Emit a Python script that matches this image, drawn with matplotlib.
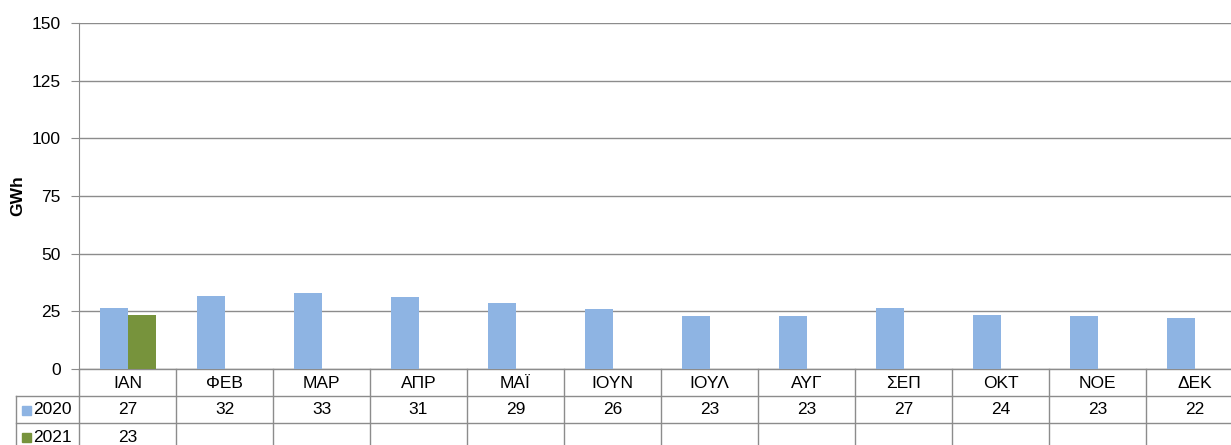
import matplotlib
matplotlib.use("Agg")
import matplotlib.pyplot as plt
import matplotlib.transforms as mtransforms
from matplotlib.lines import Line2D
from matplotlib.patches import Rectangle

months = ["ΙΑΝ", "ΦΕΒ", "ΜΑΡ", "ΑΠΡ", "ΜΑΪ", "ΙΟΥΝ", "ΙΟΥΛ", "ΑΥΓ", "ΣΕΠ", "ΟΚΤ", "ΝΟΕ", "ΔΕΚ"]
values_2020 = [26.6, 31.8, 32.8, 31.0, 28.4, 26.1, 22.8, 23.1, 26.6, 23.6, 22.8, 22.3]
values_2021 = [23.5]
labels_2020 = ["27", "32", "33", "31", "29", "26", "23", "23", "27", "24", "23", "22"]
labels_2021 = ["23"]
series_names = ["2020", "2021"]
colors = ["#8EB4E3", "#77933C"]
yticks = [0, 25, 50, 75, 100, 125, 150]

plt.rcParams['font.family'] = ['Liberation Sans', 'DejaVu Sans']
FS = 12.5
W, H = 1231, 445
fig = plt.figure(figsize=(W/100, H/100), dpi=100)
cw = 97.0
x0, ytop, y0 = 79, 23, 369
x1 = x0 + 12 * cw
ax = fig.add_axes([x0/W, 1 - y0/H, (x1-x0)/W, (y0-ytop)/H])

bw = 28 / cw
xs = list(range(len(months)))
ax.bar([x - bw/2 for x in xs], values_2020, width=bw, color=colors[0], zorder=3)
ax.bar([x + bw/2 for x in range(len(values_2021))], values_2021, width=bw, color=colors[1], zorder=3)

ax.set_xlim(-0.5, len(months) - 0.5)
ax.set_ylim(0, 150)
ax.set_yticks(yticks)
ax.set_yticklabels([str(v) for v in yticks], fontsize=FS)
ax.yaxis.grid(True, color="#8C8C8C", linewidth=1)
ax.set_axisbelow(True)
ax.set_xticks([])
for s in ["top", "right", "bottom"]:
    ax.spines[s].set_visible(False)
ax.spines["left"].set_color("#8C8C8C")
ax.tick_params(axis="y", length=6, color="#8C8C8C", pad=7)
ax.set_ylabel("GWh", fontsize=FS, fontweight="bold", labelpad=5)

tr = mtransforms.blended_transform_factory(ax.transData, ax.transAxes)
ph = y0 - ytop
def ay(p):
    return (y0 - p) / ph

line_kw = dict(color="#8C8C8C", linewidth=1, transform=tr, clip_on=False)
left_x = -0.5 + (16 - x0) / cw
# horizontal lines
ax.add_line(Line2D([-0.5, 11.5], [ay(369), ay(369)], **line_kw))
for p in [396, 423]:
    ax.add_line(Line2D([left_x, 11.5], [ay(p), ay(p)], **line_kw))
# vertical lines
for i in range(13):
    xv = -0.5 + i
    ax.add_line(Line2D([xv, xv], [ay(369), ay(452)], **line_kw))
ax.add_line(Line2D([left_x, left_x], [ay(396), ay(452)], **line_kw))

# header
for i, m in enumerate(months):
    ax.text(i, ay(383), m, transform=tr, ha="center", va="center", fontsize=FS)
# rows
for r, (labels, name, col) in enumerate([(labels_2020, series_names[0], colors[0]),
                                          (labels_2021, series_names[1], colors[1])]):
    yc = ay(410 + 27 * r)
    for i, t in enumerate(labels):
        ax.text(i, yc, t, transform=tr, ha="center", va="center", fontsize=FS)
    kx = left_x + 6 / cw
    ax.add_patch(Rectangle((kx, yc - 4.5/ph), 9/cw, 9/ph, transform=tr, color=col, clip_on=False))
    ax.text(kx + 11/cw, yc, name, transform=tr, ha="left", va="center", fontsize=FS)

fig.savefig("out.png", dpi=100)
